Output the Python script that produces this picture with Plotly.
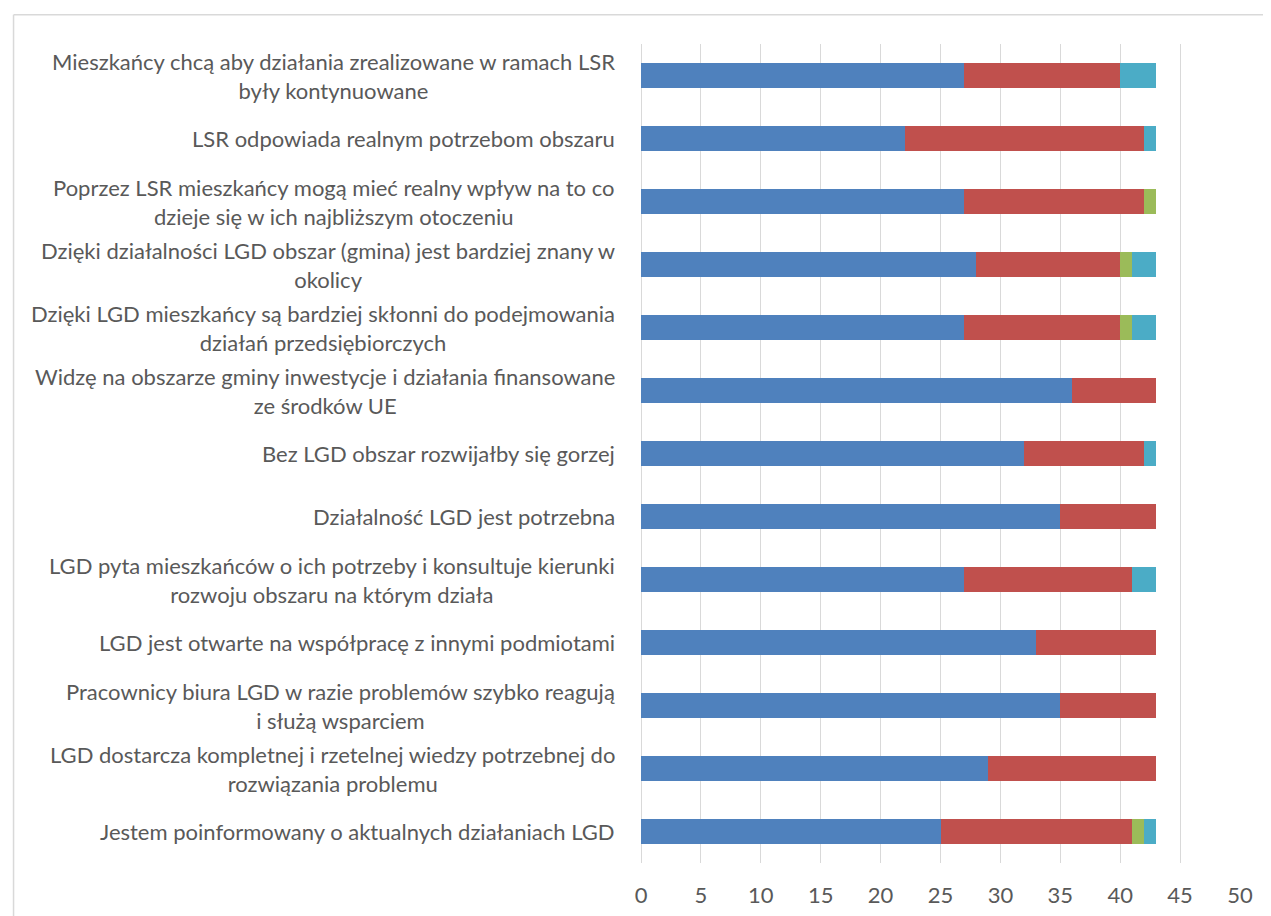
import plotly.graph_objects as go

categories = [
    "Mieszkańcy chcą aby działania zrealizowane w ramach LSR<br>były kontynuowane",
    "LSR odpowiada realnym potrzebom obszaru",
    "Poprzez LSR mieszkańcy mogą mieć realny wpływ na to co<br>dzieje się w ich najbliższym otoczeniu",
    "Dzięki działalności LGD obszar (gmina) jest bardziej znany w<br>okolicy",
    "Dzięki LGD mieszkańcy są bardziej skłonni do podejmowania<br>działań przedsiębiorczych",
    "Widzę na obszarze gminy inwestycje i działania finansowane<br>ze środków UE",
    "Bez LGD obszar rozwijałby się gorzej",
    "Działalność LGD jest potrzebna",
    "LGD pyta mieszkańców o ich potrzeby i konsultuje kierunki<br>rozwoju obszaru na którym działa",
    "LGD jest otwarte na współpracę z innymi podmiotami",
    "Pracownicy biura LGD w razie problemów szybko reagują<br>i służą wsparciem",
    "LGD dostarcza kompletnej i rzetelnej wiedzy potrzebnej do<br>rozwiązania problemu",
    "Jestem poinformowany o aktualnych działaniach LGD",
]

series_names = ["Seria 1", "Seria 2", "Seria 3", "Seria 4"]
s1 = [27, 22, 27, 28, 27, 36, 32, 35, 27, 33, 35, 29, 25]
s2 = [13, 20, 15, 12, 13, 7, 10, 8, 14, 10, 8, 14, 16]
s3 = [0, 0, 1, 1, 1, 0, 0, 0, 0, 0, 0, 0, 1]
s4 = [3, 1, 0, 2, 2, 0, 1, 0, 2, 0, 0, 0, 1]
colors = ["#4F81BD", "#C0504D", "#9BBB59", "#4BACC6"]

x_ticks = [0, 5, 10, 15, 20, 25, 30, 35, 40, 45, 50]

FONT = "Lato"
TXT = "#595959"
GRID = "#D9D9D9"

ids = list(range(len(categories)))

fig = go.Figure()
for name, vals, col in zip(series_names, [s1, s2, s3, s4], colors):
    fig.add_trace(go.Bar(
        x=vals, y=ids, orientation="h", name=name,
        marker=dict(color=col, line=dict(width=0)),
        hoverinfo="x+name",
    ))

for i, lab in enumerate(categories):
    fig.add_annotation(
        x=0, xref="paper", y=i, yref="y", text=lab,
        xanchor="right", yanchor="middle", align="center",
        xshift=-24, showarrow=False,
        font=dict(family=FONT, size=22, color=TXT),
    )

L, T, R, B = 632.5, 36.3, 30.5, 52.7
W, H = 1263, 908
PW = W - L - R
PH = H - T - B
bx = (4 - L) / PW
by = 1 + (T - 7) / PH

fig.update_layout(
    barmode="stack",
    bargap=0.6,
    width=W, height=H,
    margin=dict(l=L, r=R, t=T, b=B, autoexpand=False),
    paper_bgcolor="white", plot_bgcolor="white",
    showlegend=False,
    font=dict(family=FONT, color=TXT, size=22),
    xaxis=dict(
        range=[0, 50], tickvals=x_ticks, ticktext=[str(v) for v in x_ticks],
        showgrid=True, gridcolor=GRID, gridwidth=1.3,
        zeroline=True, zerolinecolor=GRID, zerolinewidth=1.3,
        showline=False, ticks="outside", ticklen=13, tickcolor="rgba(0,0,0,0)",
        tickfont=dict(family=FONT, size=22, color=TXT), fixedrange=True,
        automargin=False,
    ),
    yaxis=dict(
        range=[len(categories) - 0.5, -0.5], showticklabels=False,
        showgrid=False, zeroline=False, showline=False, fixedrange=True,
        automargin=False,
    ),
    shapes=[
        dict(type="line", xref="paper", yref="paper",
             x0=bx, x1=1.2, y0=by, y1=by,
             line=dict(color=GRID, width=1.5)),
        dict(type="line", xref="paper", yref="paper",
             x0=bx, x1=bx, y0=by, y1=-0.2,
             line=dict(color=GRID, width=1.5)),
    ],
)

fig.write_html("out.html")
